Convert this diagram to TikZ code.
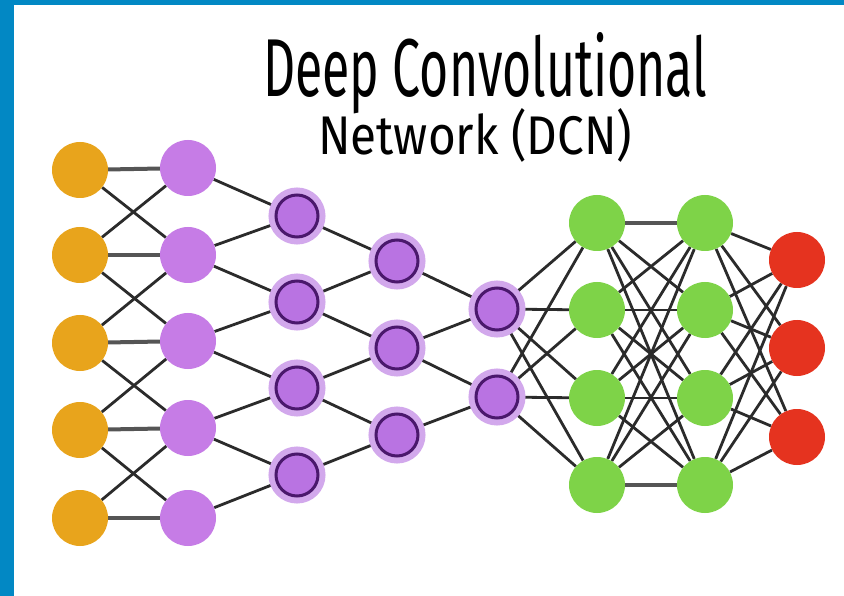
\documentclass[tikz,border=0pt]{standalone}
\usepackage{fontspec}
\newfontfamily\titlefont{Fira Sans}
\usetikzlibrary{backgrounds}

\definecolor{frameblue}{HTML}{0288C4}
\definecolor{inorange}{HTML}{E8A41C}
\definecolor{convlilac}{HTML}{C67CE6}
\definecolor{poolfill}{HTML}{B973E2}
\definecolor{poolring}{HTML}{4A186C}
\definecolor{poolhalo}{HTML}{D2A8EC}
\definecolor{densegreen}{HTML}{7ED348}
\definecolor{outred}{HTML}{E5331F}
\definecolor{wire}{HTML}{2B2B2B}

\pgfdeclarelayer{wires}
\pgfsetlayers{background,wires,main}

\tikzset{
  unit/.style={circle, inner sep=0pt, minimum size=56pt},
  inputunit/.style={unit, fill=inorange},
  convunit/.style={unit, fill=convlilac},
  poolunit/.style={circle, inner sep=0pt, minimum size=42pt, fill=poolfill,
    draw=poolring, line width=3pt,
    preaction={draw=poolhalo, line width=15pt}},
  denseunit/.style={unit, fill=densegreen},
  outputunit/.style={unit, fill=outred},
  link/.style={draw=wire, line width=2.8pt},
  flatlink/.style={draw=wire!80, line width=4pt},
}

\begin{document}
\begin{tikzpicture}[x=1pt, y=-1pt]
\useasboundingbox (0,0) rectangle (844,596);

\begin{pgfonlayer}{background}
  \fill[white] (0,0) rectangle (844,596);
  \fill[frameblue] (0,0) rectangle (844,5);
  \fill[frameblue] (0,0) rectangle (14,596);
\end{pgfonlayer}

% title, in two lines
\node[anchor=base west, inner sep=0pt] (title1) at (263,97)
  {\resizebox{444pt}{64pt}{\titlefont Deep Convolutional}};
\node[anchor=base west, inner sep=0pt] (title2) at (318,155)
  {\resizebox{314pt}{46pt}{\titlefont Network (DCN)}};

% layers of units
\foreach \y [count=\i] in {170,255,343,430,518}
  \node[inputunit] (a\i) at (80,\y) {};
\foreach \y [count=\i] in {168,255,341,428,518}
  \node[convunit] (b\i) at (188,\y) {};
\foreach \y [count=\i] in {216,302,388,475}
  \node[poolunit] (c\i) at (297,\y) {};
\foreach \y [count=\i] in {261,348,435}
  \node[poolunit] (d\i) at (397,\y) {};
\foreach \y [count=\i] in {309,397}
  \node[poolunit] (e\i) at (497,\y) {};
\foreach \y [count=\i] in {223,310,398,485}
  \node[denseunit] (f\i) at (597,\y) {};
\foreach \y [count=\i] in {223,310,398,485}
  \node[denseunit] (g\i) at (705,\y) {};
\foreach \y [count=\i] in {260,348,437}
  \node[outputunit] (h\i) at (797,\y) {};

% connections
\begin{pgfonlayer}{wires}
  \foreach \i in {1,...,5}
    \draw[flatlink] (a\i) -- (b\i);
  \foreach \i/\j in {1/2,2/3,3/4,4/5} {
    \draw[link] (a\i) -- (b\j);
    \draw[link] (a\j) -- (b\i);
  }
  \foreach \i/\j in {1/2,2/3,3/4,4/5} {
    \draw[link] (b\i) -- (c\i);
    \draw[link] (b\j) -- (c\i);
  }
  \foreach \i/\j in {1/2,2/3,3/4} {
    \draw[link] (c\i) -- (d\i);
    \draw[link] (c\j) -- (d\i);
  }
  \foreach \i/\j in {1/2,2/3} {
    \draw[link] (d\i) -- (e\i);
    \draw[link] (d\j) -- (e\i);
  }
  \foreach \i in {1,2}
    \foreach \j in {1,...,4}
      \draw[link] (e\i) -- (f\j);
  \foreach \i in {1,...,4}
    \foreach \j in {1,...,4}
      \draw[link] (f\i) -- (g\j);
  \foreach \i in {1,4}
    \draw[flatlink] (f\i) -- (g\i);
  \foreach \i in {1,...,4}
    \foreach \j in {1,2,3}
      \draw[link] (g\i) -- (h\j);
\end{pgfonlayer}
\end{tikzpicture}
\end{document}
